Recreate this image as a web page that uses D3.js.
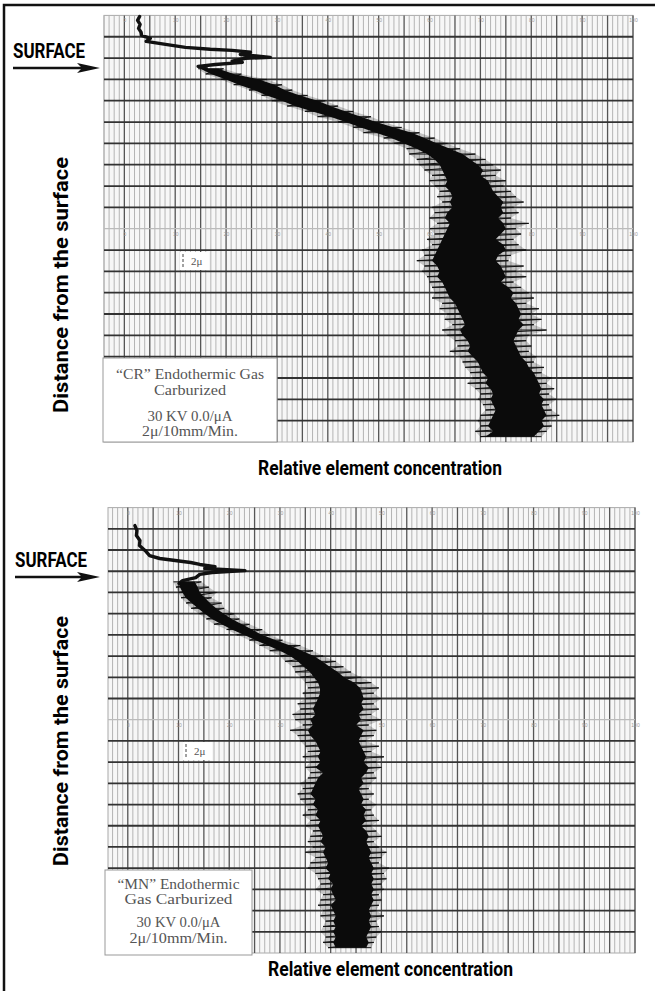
<!DOCTYPE html>
<html lang="en">
<head>
<meta charset="utf-8">
<title>Endothermic gas carburized - element profiles</title>
<script src="https://d3js.org/d3.v7.min.js"></script>
<style>
  body { margin: 0; background: #fff; }
  svg { display: block; }
</style>
</head>
<body>
<script>
// chart paper tick labels (every second major line)
var labelTicks = [0, 10, 20, 30, 40, 50, 60, 70, 80, 90, 100];

// ---- "CR" trace: start of the trace near the surface (value, depth in rows)
var crHeadX     = [3.0, 2.6, 3.1, 2.8, 3.3, 3.4, 5.1, 4.3, 8.1, 12.0, 16.9, 21.2, 24.8, 22.8, 28.7, 23.8, 21.2, 23.2, 17.9, 14.5, 16.1];
var crHeadDepth = [0.05, 0.23, 0.42, 0.61, 0.80, 0.94, 1.08, 1.22, 1.36, 1.50, 1.59, 1.64, 1.73, 1.83, 1.97, 2.01, 2.15, 2.20, 2.30, 2.39, 2.48];

// ---- "CR" trace body: dense band and spike extent
var crDepth   = [2.5, 2.75, 3, 3.25, 3.5, 3.75, 4, 4.25, 4.5, 4.75, 5, 5.25, 5.5, 5.75, 6, 6.25, 6.5, 6.75, 7, 7.25, 7.5, 7.75, 8, 8.25, 8.5, 8.75, 9, 9.25, 9.5, 9.75, 10, 10.25, 10.5, 10.75, 11, 11.25, 11.5, 11.75, 12, 12.25, 12.5, 12.75, 13, 13.25, 13.5, 13.75, 14, 14.25, 14.5, 14.75, 15, 15.25, 15.5, 15.75, 16, 16.25, 16.5, 16.75, 17, 17.25, 17.5, 17.75, 18, 18.25, 18.5, 18.75, 19, 19.25, 19.5, 19.75];
var crLo      = [15.0, 17.0, 20.0, 22.5, 25.5, 28.0, 31.0, 33.5, 37.0, 40.5, 43.5, 46.5, 49.5, 52.5, 55.0, 57.5, 59.5, 61.0, 62.0, 62.5, 63.0, 63.5, 63.0, 64.0, 64.5, 64.0, 64.5, 63.5, 63.0, 64.0, 63.5, 63.0, 62.5, 62.0, 61.5, 61.0, 60.5, 61.5, 62.0, 61.5, 62.5, 63.0, 63.5, 64.0, 65.0, 65.5, 66.0, 66.5, 67.0, 66.0, 66.5, 67.5, 68.0, 67.5, 68.5, 69.5, 70.0, 70.5, 71.5, 71.0, 72.0, 72.5, 72.0, 72.5, 73.0, 72.5, 72.0, 71.5, 72.5, 71.0];
var crHi      = [18.5, 21.5, 26.5, 29.5, 31.5, 34.5, 38.0, 40.5, 43.5, 46.5, 49.5, 53.0, 56.5, 59.0, 61.5, 64.0, 66.5, 68.0, 69.5, 70.5, 70.0, 71.5, 72.0, 72.5, 73.5, 74.5, 74.0, 74.5, 73.5, 74.5, 75.0, 74.0, 73.0, 74.5, 75.0, 73.5, 73.0, 74.0, 74.5, 75.0, 74.0, 75.5, 76.5, 76.0, 77.0, 77.5, 78.0, 77.5, 78.5, 77.5, 77.0, 76.5, 77.0, 77.5, 78.0, 79.0, 79.5, 80.5, 81.0, 81.5, 82.0, 81.5, 82.5, 82.0, 82.5, 83.0, 82.0, 82.5, 81.5, 80.5];
var crSpikeLo = [14.5, 16.0, 19.0, 21.5, 24.5, 27.0, 29.0, 32.0, 35.5, 38.0, 42.0, 45.0, 47.0, 51.0, 53.0, 55.5, 56.0, 57.5, 58.0, 59.0, 60.5, 60.0, 61.0, 62.0, 61.5, 62.5, 60.5, 61.0, 60.0, 61.5, 60.0, 61.0, 59.5, 60.5, 58.5, 59.0, 57.5, 59.0, 58.5, 59.5, 60.0, 60.5, 61.0, 60.5, 62.5, 62.0, 63.5, 63.0, 64.5, 62.5, 63.5, 65.0, 65.5, 64.0, 66.0, 66.5, 67.0, 68.0, 68.5, 67.5, 69.0, 70.0, 69.5, 70.5, 71.0, 70.0, 69.5, 70.0, 69.0, 70.0];
var crSpikeHi = [19.5, 23.0, 28.0, 31.0, 33.0, 36.0, 39.5, 42.0, 45.0, 48.5, 51.0, 54.5, 58.0, 61.0, 63.5, 66.0, 69.0, 71.0, 72.5, 74.0, 73.0, 75.0, 74.5, 76.0, 77.0, 78.5, 76.5, 77.5, 76.0, 79.5, 77.0, 78.0, 76.5, 77.5, 79.0, 76.0, 75.5, 78.5, 77.0, 79.0, 76.5, 78.0, 79.5, 80.5, 79.0, 81.5, 80.0, 82.0, 80.5, 83.0, 79.5, 79.0, 80.0, 79.5, 81.0, 80.5, 82.5, 82.0, 84.0, 83.0, 84.5, 83.5, 85.0, 83.5, 84.0, 85.5, 83.5, 84.0, 83.0, 82.0];

// ---- "MN" trace: start near the surface
var mnHeadX     = [1.4, 1.8, 1.7, 2.4, 2.3, 3.4, 4.3, 6.3, 12.4, 14.2, 17.2, 15.2, 23.1, 16.6, 14.2, 13.4, 10.8, 10.1];
var mnHeadDepth = [0.85, 1.08, 1.32, 1.55, 1.79, 2.02, 2.26, 2.40, 2.59, 2.68, 2.78, 2.87, 2.97, 3.06, 3.15, 3.30, 3.44, 3.58];

// ---- "MN" trace body
var mnDepth   = [3.5, 3.75, 4, 4.25, 4.5, 4.75, 5, 5.25, 5.5, 5.75, 6, 6.25, 6.5, 6.75, 7, 7.25, 7.5, 7.75, 8, 8.25, 8.5, 8.75, 9, 9.25, 9.5, 9.75, 10, 10.25, 10.5, 10.75, 11, 11.25, 11.5, 11.75, 12, 12.25, 12.5, 12.75, 13, 13.25, 13.5, 13.75, 14, 14.25, 14.5, 14.75, 15, 15.25, 15.5, 15.75, 16, 16.25, 16.5, 16.75, 17, 17.25, 17.5, 17.75, 18, 18.25, 18.5, 18.75, 19, 19.25, 19.5, 19.75, 20, 20.25, 20.5, 20.75];
var mnLo      = [9.9, 10.3, 10.8, 11.4, 12.6, 13.8, 15.2, 16.6, 18.5, 20.5, 22.9, 25.2, 27.6, 30.0, 32.0, 33.5, 34.7, 35.9, 36.7, 37.5, 37.9, 37.9, 37.5, 37.0, 36.5, 37.0, 36.0, 36.5, 35.5, 36.0, 37.0, 37.5, 38.0, 37.5, 38.0, 37.0, 38.5, 37.5, 37.0, 36.5, 36.0, 37.0, 36.5, 37.5, 37.0, 38.0, 37.5, 38.0, 38.5, 38.0, 39.0, 38.5, 39.0, 39.5, 39.0, 40.0, 39.5, 40.5, 40.0, 40.5, 41.0, 40.0, 40.5, 41.0, 40.5, 41.0, 40.5, 41.0, 40.5, 41.0];
var mnHi      = [13.2, 13.8, 14.2, 15.2, 16.2, 17.4, 18.9, 20.5, 22.5, 24.5, 26.4, 29.2, 32.0, 34.3, 36.7, 38.3, 39.8, 41.4, 42.6, 44.6, 45.8, 46.2, 46.5, 46.0, 46.5, 45.5, 46.0, 45.0, 46.5, 46.0, 45.5, 46.0, 46.5, 47.0, 46.5, 47.5, 47.0, 46.0, 46.5, 45.5, 46.0, 46.5, 46.0, 47.0, 46.5, 47.0, 46.0, 47.0, 47.5, 47.0, 47.5, 48.0, 47.5, 48.0, 48.5, 48.0, 48.5, 48.0, 48.5, 48.0, 48.5, 48.0, 47.5, 48.0, 47.5, 48.0, 47.5, 47.0, 47.5, 47.0];
var mnSpikeLo = [9.0, 9.5, 10.0, 10.5, 11.5, 12.5, 14.0, 15.5, 17.0, 19.5, 21.5, 24.0, 26.0, 28.0, 30.0, 31.0, 32.5, 33.0, 34.0, 35.0, 35.5, 34.5, 35.0, 33.5, 34.0, 32.5, 33.0, 34.5, 32.0, 33.5, 34.0, 35.0, 35.5, 34.5, 36.0, 35.0, 36.0, 35.5, 34.0, 34.5, 33.5, 34.0, 35.0, 35.5, 34.5, 36.0, 35.0, 36.5, 36.0, 35.5, 36.5, 35.0, 37.0, 36.0, 35.5, 37.0, 37.5, 38.0, 37.0, 38.5, 38.0, 37.5, 38.5, 38.0, 39.0, 38.5, 38.0, 39.0, 38.5, 39.5];
var mnSpikeHi = [14.5, 16.0, 17.5, 16.5, 18.5, 19.0, 21.0, 22.0, 24.0, 26.5, 28.0, 30.5, 34.0, 36.5, 38.5, 41.0, 42.5, 44.0, 46.0, 48.0, 49.5, 48.5, 50.0, 48.5, 49.5, 48.0, 50.0, 47.5, 49.0, 48.5, 47.0, 49.5, 48.0, 50.5, 49.0, 50.0, 48.5, 49.0, 48.0, 47.5, 48.5, 47.5, 49.0, 48.0, 48.5, 49.5, 48.0, 49.0, 50.0, 48.5, 49.5, 51.0, 50.0, 49.5, 51.5, 50.5, 51.0, 50.0, 50.5, 49.5, 50.0, 49.5, 49.0, 50.5, 49.0, 49.5, 50.0, 49.0, 48.5, 48.0];

var crLegend = ["\u201CCR\u201D Endothermic Gas", "Carburized", "30 KV 0.0/\u03BCA", "2\u03BC/10mm/Min."];
var mnLegend = ["\u201CMN\u201D Endothermic", "Gas Carburized", "30 KV 0.0/\u03BCA", "2\u03BC/10mm/Min."];

var w = 655, h = 991;
var svg = d3.select("body").append("svg").attr("width", w).attr("height", h);
svg.append("rect").attr("width", w).attr("height", h).attr("fill", "white");

// outer frame (right and bottom edges fall outside the picture)
svg.append("rect").attr("x", 4).attr("y", 5).attr("width", 660).attr("height", 995)
  .attr("fill", "none").attr("stroke", "#111").attr("stroke-width", 2.5);

var boldFont = "'Liberation Sans Narrow', Roboto, 'Liberation Sans', sans-serif";

function zip(a, b) { return a.map(function (v, i) { return [v, b[i]]; }); }

function drawPanel(p) {
  var x = d3.scaleLinear().domain([p.vMin, 100]).range([p.left, p.right]);
  var y = d3.scaleLinear().domain([0, p.rows]).range([p.top, p.bottom]);
  var g = svg.append("g");

  // paper
  g.append("rect").attr("x", p.left).attr("y", p.top)
    .attr("width", p.right - p.left).attr("height", p.bottom - p.top)
    .attr("fill", "#f7f7f7").attr("stroke", "#aaa").attr("stroke-width", 1);

  // minor vertical rulings
  var minor = d3.range(Math.ceil(p.vMin), 100).filter(function (v) { return v % 5 != 0; });
  g.selectAll("line.minor").data(minor).join("line").attr("class", "minor")
    .attr("x1", function (d) { return x(d); }).attr("x2", function (d) { return x(d); })
    .attr("y1", p.top).attr("y2", p.bottom)
    .attr("stroke", "#b4b4b4").attr("stroke-width", 1);

  // major vertical rulings
  g.selectAll("line.major").data(d3.range(0, 101, 5)).join("line").attr("class", "major")
    .attr("x1", function (d) { return x(d); }).attr("x2", function (d) { return x(d); })
    .attr("y1", p.top).attr("y2", p.bottom)
    .attr("stroke", "#555").attr("stroke-width", 1.3);

  // horizontal rulings
  g.selectAll("line.row").data(d3.range(1, p.rows)).join("line").attr("class", "row")
    .attr("x1", p.left).attr("x2", p.right)
    .attr("y1", function (d) { return y(d); }).attr("y2", function (d) { return y(d); })
    .attr("stroke", function (d) { return d == 10 ? "#bbb" : "#333"; })
    .attr("stroke-width", function (d) { return d == 10 ? 1.2 : 1.8; });

  // tiny chart-paper numbers, top edge and middle row
  [0, 10].forEach(function (r) {
    var ax = g.append("g").attr("transform", "translate(0," + (y(r) + 7) + ")")
      .call(d3.axisTop(x).tickValues(labelTicks).tickSize(0).tickPadding(0));
    ax.select(".domain").remove();
    ax.selectAll("text").attr("fill", "#999").style("font-size", "5px");
  });

  // legend box
  var lb = p.legendBox;
  g.append("rect").attr("x", lb[0]).attr("y", lb[1]).attr("width", lb[2]).attr("height", lb[3])
    .attr("fill", "white").attr("stroke", "#999").attr("stroke-width", 1);
  g.selectAll("text.leg").data(p.legend).join("text").attr("class", "leg")
    .attr("x", lb[0] + lb[2] / 2)
    .attr("y", function (d, i) { return p.legendY[i]; })
    .attr("text-anchor", "middle")
    .attr("textLength", function (d, i) { return p.legendW[i]; })
    .attr("lengthAdjust", "spacingAndGlyphs")
    .attr("fill", "#555")
    .style("font-family", "'Liberation Serif', 'DejaVu Serif', serif")
    .style("font-size", "14px")
    .text(function (d) { return d; });

  // 2 micron scale mark
  var m = p.mark;
  g.append("rect").attr("x", m[0] - 3).attr("y", m[1]).attr("width", 29).attr("height", 18).attr("fill", "white");
  g.append("line").attr("x1", m[0]).attr("x2", m[0]).attr("y1", m[1] + 2).attr("y2", m[1] + 16)
    .attr("stroke", "#444").attr("stroke-width", 1).attr("stroke-dasharray", "3,2");
  g.append("text").attr("x", m[0] + 8).attr("y", m[1] + 13).attr("fill", "#555")
    .style("font-family", "'Liberation Serif', serif").style("font-size", "11px").text("2\u03BC");

  // trace: start near the surface
  g.append("path").datum(zip(p.headX, p.headDepth))
    .attr("d", d3.line().x(function (d) { return x(d[0]); }).y(function (d) { return y(d[1]); }))
    .attr("fill", "none").attr("stroke", "#111").attr("stroke-width", 3.4)
    .attr("stroke-linejoin", "round").attr("stroke-linecap", "round");

  // trace: noisy band (spike halo, pen scribble, dense core)
  var band = p.depth.map(function (d, i) {
    return { d: d, lo: p.lo[i], hi: p.hi[i], slo: p.spikeLo[i], shi: p.spikeHi[i] };
  });
  g.append("path").datum(band)
    .attr("d", d3.area().y(function (d) { return y(d.d); })
      .x0(function (d) { return x(d.slo); }).x1(function (d) { return x(d.shi); }))
    .attr("fill", "#000").attr("fill-opacity", 0.2);
  var scribble = [];
  band.forEach(function (d) { scribble.push([d.slo, d.d], [d.shi, d.d]); });
  g.append("path").datum(scribble)
    .attr("d", d3.line().x(function (d) { return x(d[0]); }).y(function (d) { return y(d[1]); }))
    .attr("fill", "none").attr("stroke", "#111").attr("stroke-width", 1);
  g.append("path").datum(band)
    .attr("d", d3.area().y(function (d) { return y(d.d); })
      .x0(function (d) { return x(d.lo); }).x1(function (d) { return x(d.hi); }))
    .attr("fill", "#0b0b0b");

  // SURFACE arrow
  var s = p.surface;
  svg.append("text").attr("x", s[0]).attr("y", s[1])
    .attr("textLength", 72).attr("lengthAdjust", "spacingAndGlyphs")
    .style("font-family", boldFont).style("font-weight", "bold").style("font-size", "21px")
    .text("SURFACE");
  svg.append("line").attr("x1", s[0]).attr("x2", 84).attr("y1", s[2]).attr("y2", s[2])
    .attr("stroke", "#111").attr("stroke-width", 2.5);
  svg.append("path")
    .attr("d", "M" + [s[3], s[2]] + "L" + [s[3] - 23, s[2] - 5] + "L" + [s[3] - 18, s[2]] + "L" + [s[3] - 23, s[2] + 5] + "Z")
    .attr("fill", "#111");

  // axis titles
  svg.append("text")
    .attr("transform", "translate(" + p.yTitle[0] + "," + p.yTitle[1] + ") rotate(-90)")
    .attr("text-anchor", "middle")
    .attr("textLength", p.yTitle[2]).attr("lengthAdjust", "spacingAndGlyphs")
    .style("font-family", boldFont).style("font-weight", "bold").style("font-size", "21px")
    .text("Distance from the surface");
  svg.append("text").attr("x", p.xTitle[0]).attr("y", p.xTitle[1])
    .attr("textLength", p.xTitle[2]).attr("lengthAdjust", "spacingAndGlyphs")
    .style("font-family", boldFont).style("font-weight", "bold").style("font-size", "21px")
    .text("Relative element concentration");
}

drawPanel({
  left: 104, right: 633, top: 15.4, bottom: 442, rows: 20, vMin: -4,
  headX: crHeadX, headDepth: crHeadDepth,
  depth: crDepth, lo: crLo, hi: crHi, spikeLo: crSpikeLo, spikeHi: crSpikeHi,
  legend: crLegend, legendBox: [103, 358, 174, 84], legendY: [379, 395, 421, 436],
  legendW: [148, 72, 85, 96],
  mark: [183, 252],
  surface: [13, 58, 68, 100],
  yTitle: [68, 285, 256],
  xTitle: [258, 475, 244]
});

drawPanel({
  left: 108, right: 635, top: 507.6, bottom: 953, rows: 21, vMin: -3.9,
  headX: mnHeadX, headDepth: mnHeadDepth,
  depth: mnDepth, lo: mnLo, hi: mnHi, spikeLo: mnSpikeLo, spikeHi: mnSpikeHi,
  legend: mnLegend, legendBox: [105, 870, 147, 85], legendY: [889, 904, 927, 943],
  legendW: [122, 108, 84, 98],
  mark: [186, 742],
  surface: [15, 567, 577, 100],
  yTitle: [68, 741, 250],
  xTitle: [268, 976, 245]
});
</script>
</body>
</html>
